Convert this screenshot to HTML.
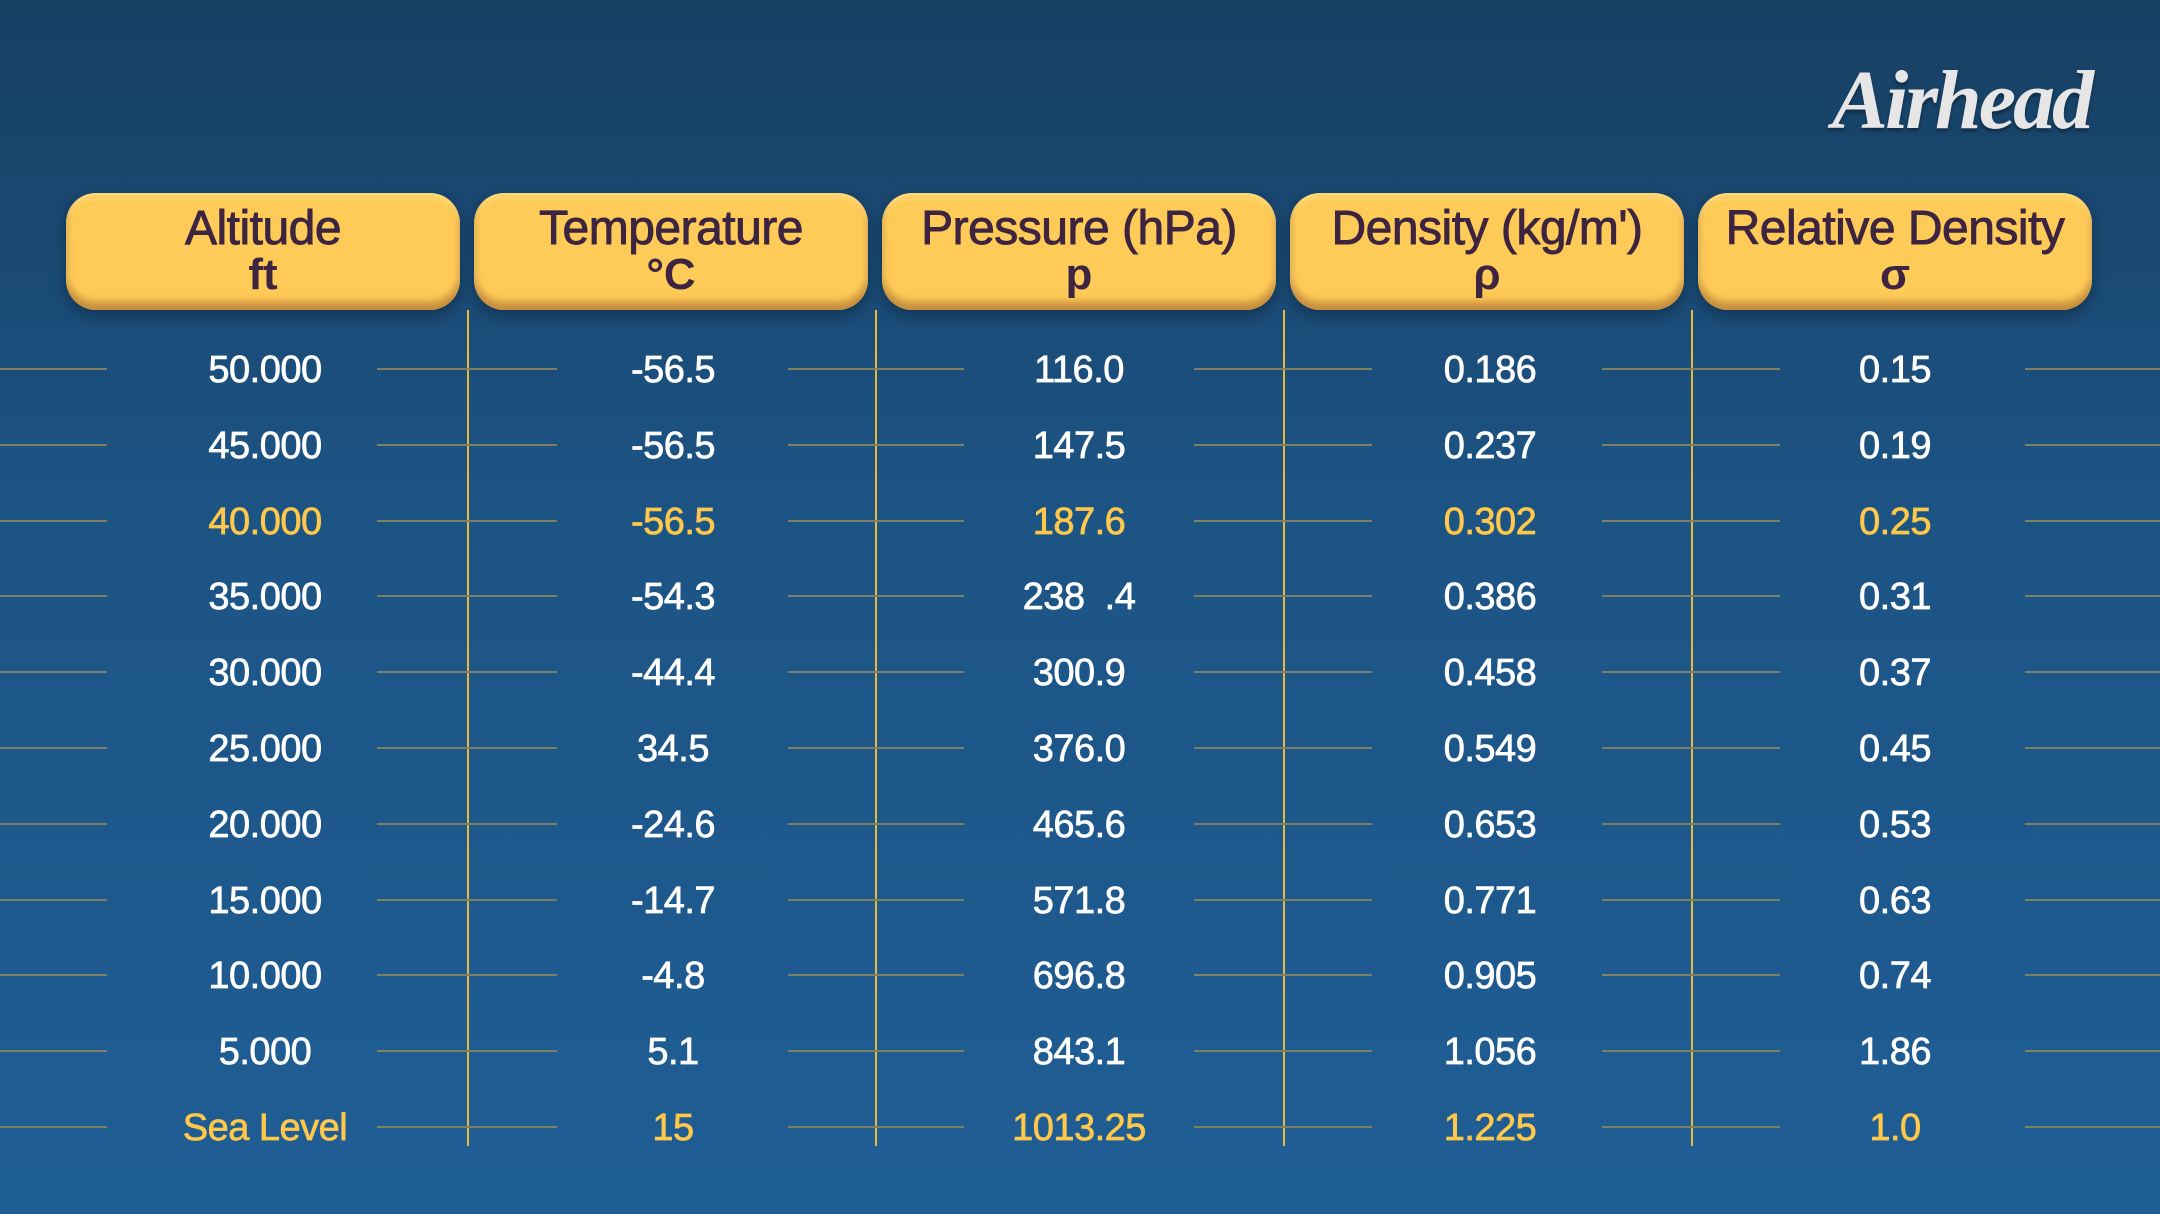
<!DOCTYPE html>
<html><head><meta charset="utf-8"><style>
html,body{margin:0;padding:0}
body{width:2160px;height:1214px;position:relative;overflow:hidden;
background:linear-gradient(180deg,#173f62 0%,#1c5383 40%,#1f5e95 100%);
font-family:"Liberation Sans",sans-serif;}
.box{position:absolute;top:193px;width:394px;height:117px;background:#ffcb58;border-radius:30px;
box-shadow:inset 0 -8px 8px rgba(150,90,40,.55),inset 0 4px 6px rgba(255,230,150,.6),0 6px 14px rgba(0,0,0,.3);
text-align:center;color:#3d2541;}
.box .t{font-size:48px;line-height:48px;margin-top:12px;white-space:nowrap;-webkit-text-stroke:0.9px #3d2541;letter-spacing:-0.5px}
.box .s{font-size:44px;line-height:44px;font-weight:bold;margin-top:0px}
.v{position:absolute;top:310px;height:836px;width:2px;background:#e8b93a}
.h{position:absolute;height:2px;background:#7d8062}
.c{position:absolute;width:300px;text-align:center;color:#fff;font-size:38px;line-height:40px;-webkit-text-stroke:0.7px currentColor;letter-spacing:-0.5px}
.y{color:#ffc84a}
.logo{position:absolute;left:1832px;top:52px;font-family:"Liberation Serif",serif;font-style:italic;font-weight:bold;font-size:84px;color:#e6e6e6;text-shadow:0 3px 3px rgba(0,0,0,.35);letter-spacing:-3px}
</style></head><body>
<div class="logo">Airhead</div>
<div class="box" style="left:66px"><div class="t">Altitude</div><div class="s">ft</div></div>
<div class="box" style="left:474px"><div class="t">Temperature</div><div class="s">°C</div></div>
<div class="box" style="left:882px"><div class="t">Pressure (hPa)</div><div class="s">p</div></div>
<div class="box" style="left:1290px"><div class="t">Density (kg/m')</div><div class="s">ρ</div></div>
<div class="box" style="left:1698px"><div class="t">Relative Density</div><div class="s">σ</div></div>
<div class="v" style="left:467px"></div><div class="v" style="left:875px"></div><div class="v" style="left:1283px"></div><div class="v" style="left:1691px"></div>
<div id="rows"></div>
<script>
var d=[["50.000","-56.5","116.0","0.186","0.15"],["45.000","-56.5","147.5","0.237","0.19"],["40.000","-56.5","187.6","0.302","0.25"],["35.000","-54.3","238&nbsp;&nbsp;.4","0.386","0.31"],["30.000","-44.4","300.9","0.458","0.37"],["25.000","34.5","376.0","0.549","0.45"],["20.000","-24.6","465.6","0.653","0.53"],["15.000","-14.7","571.8","0.771","0.63"],["10.000","-4.8","696.8","0.905","0.74"],["5.000","5.1","843.1","1.056","1.86"],["Sea Level","15","1013.25","1.225","1.0"]];
var cx=[265,673,1079,1490,1895],segs=[[0,107],[377,557],[788,964],[1194,1372],[1602,1780],[2025,2160]],h="";
for(var i=0;i<d.length;i++){var y=369+75.8*i;var cls=(i==2||i==10)?"c y":"c";
for(var s=0;s<segs.length;s++)h+='<div class="h" style="top:'+(y-1)+'px;left:'+segs[s][0]+'px;width:'+(segs[s][1]-segs[s][0])+'px"></div>';
for(var j=0;j<5;j++)h+='<div class="'+cls+'" style="left:'+(cx[j]-150)+'px;top:'+(y-19)+'px">'+d[i][j]+'</div>';}
document.getElementById("rows").innerHTML=h;
</script>
</body></html>
